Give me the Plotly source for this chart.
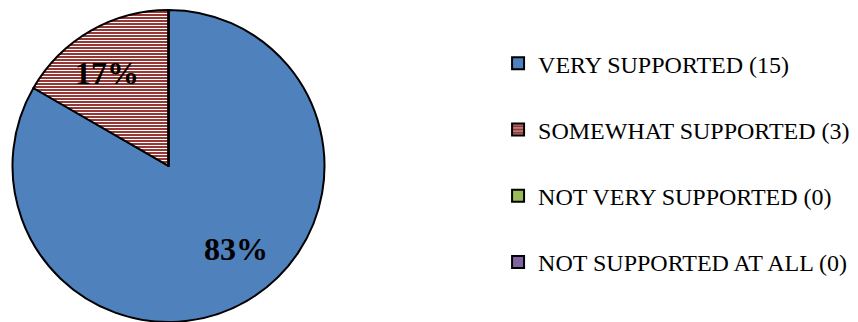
import math
import plotly.graph_objects as go

categories = ["VERY SUPPORTED", "SOMEWHAT SUPPORTED", "NOT VERY SUPPORTED", "NOT SUPPORTED AT ALL"]
counts = [15, 3, 0, 0]
slice_colors = ["#4F81BD", "#953735", "#9BBB59", "#8064A2"]
slice_shapes = ["", "-", "", ""]

legend_names = [f"{c} ({n})" for c, n in zip(categories, counts)]

# pie placement (paper coordinates)
PIE_X = [0.01457, 0.3782]
PIE_Y = [0.0, 0.969]
W, H = 858, 322

fig = go.Figure()

fig.add_trace(go.Pie(
    labels=legend_names,
    values=counts,
    sort=False,
    direction="clockwise",
    rotation=0,
    showlegend=False,
    domain=dict(x=PIE_X, y=PIE_Y),
    marker=dict(
        colors=slice_colors,
        line=dict(color="black", width=2),
        pattern=dict(shape=slice_shapes, fgcolor=["white"] * 4, bgcolor=slice_colors,
                     size=3, solidity=0.34),
    ),
    textinfo="none",
    hoverinfo="label+percent",
))

# percentage labels placed inside each non-empty slice
total = sum(counts)
cx = (PIE_X[0] + PIE_X[1]) / 2
cy = (PIE_Y[0] + PIE_Y[1]) / 2
radius_px = min((PIE_X[1] - PIE_X[0]) * W, (PIE_Y[1] - PIE_Y[0]) * H) / 2
start = 0.0
for n in counts:
    if n > 0:
        mid = (start + n / 2) / total * 360 - 6
        rr = 0.7 * radius_px
        px = rr * math.sin(math.radians(mid))
        py = rr * math.cos(math.radians(mid))
        fig.add_annotation(
            x=cx + px / W, y=cy + py / H, xref="paper", yref="paper",
            xanchor="center", yanchor="middle", xshift=3, yshift=5,
            text=f"{n / total:.0%}", showarrow=False,
            font=dict(family="Liberation Serif", size=32, color="black", weight="bold"),
        )
    start += n

# legend entries, one group per category so the gap between them can be set
for name, col, shp in zip(legend_names, slice_colors, slice_shapes):
    fig.add_trace(go.Bar(
        x=[None], y=[None], name=name, legendgroup=name,
        marker=dict(color=col, line=dict(color="black", width=2),
                    pattern=dict(shape=shp, fgcolor="white", size=4, solidity=0.35)),
    ))

fig.update_layout(
    width=W, height=H,
    margin=dict(l=0, r=0, t=0, b=0),
    paper_bgcolor="white", plot_bgcolor="white",
    xaxis=dict(visible=False), yaxis=dict(visible=False),
    showlegend=True,
    legend=dict(
        x=0.5805, y=0.872, xanchor="left", yanchor="top",
        font=dict(family="Liberation Serif", size=24, color="black"),
        tracegroupgap=32,
        bgcolor="rgba(0,0,0,0)",
    ),
)

fig.write_html("out.html")
